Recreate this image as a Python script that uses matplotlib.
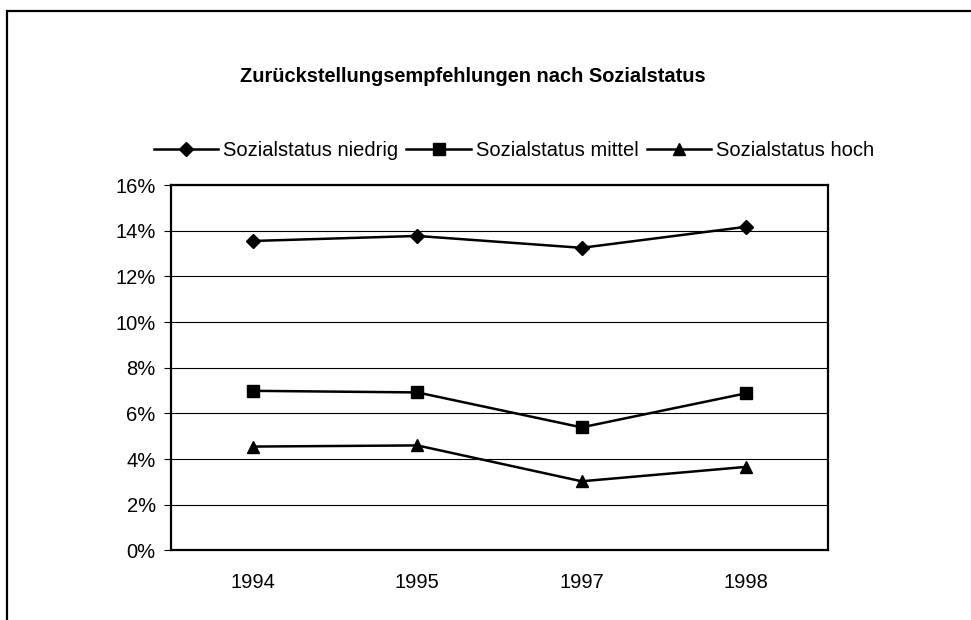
import matplotlib
matplotlib.use("Agg")
import matplotlib.pyplot as plt
from matplotlib.patches import Rectangle
from matplotlib.ticker import FuncFormatter

plt.rcParams['font.family'] = ['Liberation Sans', 'DejaVu Sans']

jahre = ['1994', '1995', '1997', '1998']
niedrig = [0.1355, 0.1377, 0.1325, 0.1417]
mittel = [0.0699, 0.0692, 0.0539, 0.0688]
hoch = [0.0455, 0.0460, 0.0303, 0.0366]

fig = plt.figure(figsize=(9.71, 6.20), dpi=100)
ax = fig.add_axes([0.1761, 0.1121, 0.6766, 0.5895])

# Rahmen um den Diagrammbereich
fig.patches.append(Rectangle((7 / 971, -0.1), 1.2, 1.1 - 11 / 620,
                             transform=fig.transFigure, fill=False,
                             edgecolor='black', linewidth=1.6))

x = range(len(jahre))
ax.plot(x, niedrig, color='black', lw=1.8, marker='D', ms=7.5, label='Sozialstatus niedrig')
ax.plot(x, mittel, color='black', lw=1.8, marker='s', ms=8.5, label='Sozialstatus mittel')
ax.plot(x, hoch, color='black', lw=1.8, marker='^', ms=9, label='Sozialstatus hoch')

ax.set_xlim(-0.5, 3.5)
ax.set_ylim(0, 0.16)
ax.set_yticks([i / 100 for i in range(0, 17, 2)])
ax.yaxis.set_major_formatter(FuncFormatter(lambda v, p: f'{v * 100:.0f}%'))
ax.set_xticks(list(x))
ax.set_xticklabels(jahre)
ax.grid(axis='y', color='black', lw=0.8)
ax.set_axisbelow(True)

for s in ax.spines.values():
    s.set_linewidth(1.6)
ax.tick_params(axis='y', length=5, width=0.8, pad=6, labelsize=14.5)
ax.tick_params(axis='x', length=0, pad=16, labelsize=14.5)

fig.text(473 / 971, 1 - 77 / 620, 'Zurückstellungsempfehlungen nach Sozialstatus',
         ha='center', va='center', fontsize=14.4, fontweight='bold')

fig.legend(loc='center', bbox_to_anchor=(514 / 971, 1 - 151 / 620), ncol=3,
           frameon=False, fontsize=14.5, handlelength=3.2, handletextpad=0.25,
           columnspacing=0.4, borderpad=0)

fig.savefig('out.png', dpi=100)
